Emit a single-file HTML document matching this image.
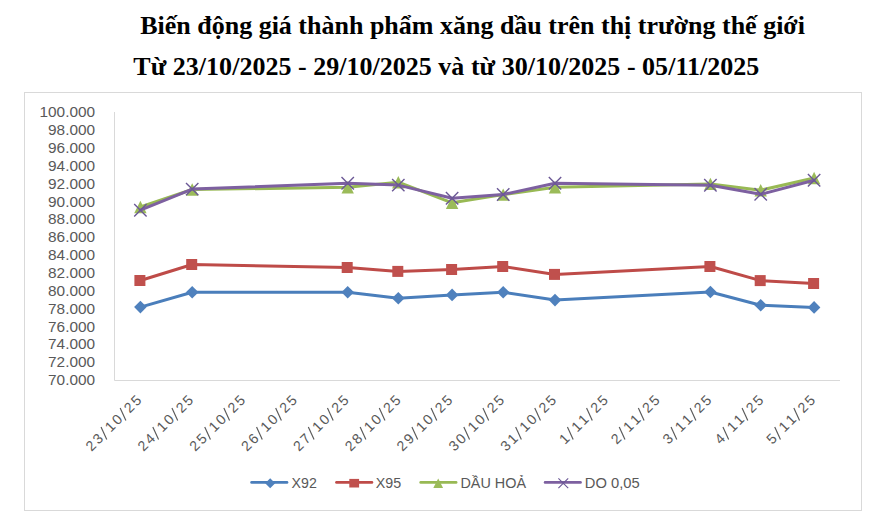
<!DOCTYPE html>
<html><head><meta charset="utf-8"><title>Chart</title>
<style>
html,body{margin:0;padding:0;background:#fff;}
body{width:893px;height:511px;overflow:hidden;}
svg{display:block;}
.t{font-family:"Liberation Serif",serif;font-weight:bold;font-size:26px;fill:#000;}
.a{font-family:"Liberation Sans",sans-serif;font-size:15.4px;fill:#595959;}
.x{font-family:"Liberation Sans",sans-serif;font-size:14.2px;fill:#595959;}
.l{font-family:"Liberation Sans",sans-serif;font-size:15.1px;fill:#595959;}
</style></head><body>
<svg width="893" height="511" viewBox="0 0 893 511">
<rect x="0" y="0" width="893" height="511" fill="#ffffff"/>
<text class="t" x="140.2" y="34.1" textLength="664.8" lengthAdjust="spacing">Biến động giá thành phẩm xăng dầu trên thị trường thế giới</text>
<text class="t" x="133.3" y="75.4" textLength="626" lengthAdjust="spacing">Từ 23/10/2025 - 29/10/2025 và từ 30/10/2025 - 05/11/2025</text>
<rect x="24.5" y="92.5" width="837" height="418" fill="#fff" stroke="#d9d9d9" stroke-width="1"/>
<path d="M114.5,112.0 L114.5,380.5 L840.0,380.5" fill="none" stroke="#d9d9d9" stroke-width="1"/>
<text class="a" x="95.1" y="117.30" text-anchor="end">100.000</text>
<text class="a" x="95.1" y="135.16" text-anchor="end">98.000</text>
<text class="a" x="95.1" y="153.02" text-anchor="end">96.000</text>
<text class="a" x="95.1" y="170.88" text-anchor="end">94.000</text>
<text class="a" x="95.1" y="188.74" text-anchor="end">92.000</text>
<text class="a" x="95.1" y="206.60" text-anchor="end">90.000</text>
<text class="a" x="95.1" y="224.46" text-anchor="end">88.000</text>
<text class="a" x="95.1" y="242.32" text-anchor="end">86.000</text>
<text class="a" x="95.1" y="260.18" text-anchor="end">84.000</text>
<text class="a" x="95.1" y="278.04" text-anchor="end">82.000</text>
<text class="a" x="95.1" y="295.90" text-anchor="end">80.000</text>
<text class="a" x="95.1" y="313.76" text-anchor="end">78.000</text>
<text class="a" x="95.1" y="331.62" text-anchor="end">76.000</text>
<text class="a" x="95.1" y="349.48" text-anchor="end">74.000</text>
<text class="a" x="95.1" y="367.34" text-anchor="end">72.000</text>
<text class="a" x="95.1" y="385.20" text-anchor="end">70.000</text>
<g transform="translate(142.0,401.5) rotate(-45)"><text class="x" x="0.55" y="0" text-anchor="end">5</text><text class="x" x="-9.30" y="0" text-anchor="end">2</text><line x1="-24.79" y1="2.0" x2="-19.99" y2="-10.9" stroke="#595959" stroke-width="1.15"/><text class="x" x="-26.49" y="0" text-anchor="end">0</text><text class="x" x="-36.34" y="0" text-anchor="end">1</text><line x1="-51.83" y1="2.0" x2="-47.03" y2="-10.9" stroke="#595959" stroke-width="1.15"/><text class="x" x="-53.53" y="0" text-anchor="end">3</text><text class="x" x="-63.38" y="0" text-anchor="end">2</text></g>
<g transform="translate(193.8,401.5) rotate(-45)"><text class="x" x="0.55" y="0" text-anchor="end">5</text><text class="x" x="-9.30" y="0" text-anchor="end">2</text><line x1="-24.79" y1="2.0" x2="-19.99" y2="-10.9" stroke="#595959" stroke-width="1.15"/><text class="x" x="-26.49" y="0" text-anchor="end">0</text><text class="x" x="-36.34" y="0" text-anchor="end">1</text><line x1="-51.83" y1="2.0" x2="-47.03" y2="-10.9" stroke="#595959" stroke-width="1.15"/><text class="x" x="-53.53" y="0" text-anchor="end">4</text><text class="x" x="-63.38" y="0" text-anchor="end">2</text></g>
<g transform="translate(245.7,401.5) rotate(-45)"><text class="x" x="0.55" y="0" text-anchor="end">5</text><text class="x" x="-9.30" y="0" text-anchor="end">2</text><line x1="-24.79" y1="2.0" x2="-19.99" y2="-10.9" stroke="#595959" stroke-width="1.15"/><text class="x" x="-26.49" y="0" text-anchor="end">0</text><text class="x" x="-36.34" y="0" text-anchor="end">1</text><line x1="-51.83" y1="2.0" x2="-47.03" y2="-10.9" stroke="#595959" stroke-width="1.15"/><text class="x" x="-53.53" y="0" text-anchor="end">5</text><text class="x" x="-63.38" y="0" text-anchor="end">2</text></g>
<g transform="translate(297.5,401.5) rotate(-45)"><text class="x" x="0.55" y="0" text-anchor="end">5</text><text class="x" x="-9.30" y="0" text-anchor="end">2</text><line x1="-24.79" y1="2.0" x2="-19.99" y2="-10.9" stroke="#595959" stroke-width="1.15"/><text class="x" x="-26.49" y="0" text-anchor="end">0</text><text class="x" x="-36.34" y="0" text-anchor="end">1</text><line x1="-51.83" y1="2.0" x2="-47.03" y2="-10.9" stroke="#595959" stroke-width="1.15"/><text class="x" x="-53.53" y="0" text-anchor="end">6</text><text class="x" x="-63.38" y="0" text-anchor="end">2</text></g>
<g transform="translate(349.3,401.5) rotate(-45)"><text class="x" x="0.55" y="0" text-anchor="end">5</text><text class="x" x="-9.30" y="0" text-anchor="end">2</text><line x1="-24.79" y1="2.0" x2="-19.99" y2="-10.9" stroke="#595959" stroke-width="1.15"/><text class="x" x="-26.49" y="0" text-anchor="end">0</text><text class="x" x="-36.34" y="0" text-anchor="end">1</text><line x1="-51.83" y1="2.0" x2="-47.03" y2="-10.9" stroke="#595959" stroke-width="1.15"/><text class="x" x="-53.53" y="0" text-anchor="end">7</text><text class="x" x="-63.38" y="0" text-anchor="end">2</text></g>
<g transform="translate(401.1,401.5) rotate(-45)"><text class="x" x="0.55" y="0" text-anchor="end">5</text><text class="x" x="-9.30" y="0" text-anchor="end">2</text><line x1="-24.79" y1="2.0" x2="-19.99" y2="-10.9" stroke="#595959" stroke-width="1.15"/><text class="x" x="-26.49" y="0" text-anchor="end">0</text><text class="x" x="-36.34" y="0" text-anchor="end">1</text><line x1="-51.83" y1="2.0" x2="-47.03" y2="-10.9" stroke="#595959" stroke-width="1.15"/><text class="x" x="-53.53" y="0" text-anchor="end">8</text><text class="x" x="-63.38" y="0" text-anchor="end">2</text></g>
<g transform="translate(452.9,401.5) rotate(-45)"><text class="x" x="0.55" y="0" text-anchor="end">5</text><text class="x" x="-9.30" y="0" text-anchor="end">2</text><line x1="-24.79" y1="2.0" x2="-19.99" y2="-10.9" stroke="#595959" stroke-width="1.15"/><text class="x" x="-26.49" y="0" text-anchor="end">0</text><text class="x" x="-36.34" y="0" text-anchor="end">1</text><line x1="-51.83" y1="2.0" x2="-47.03" y2="-10.9" stroke="#595959" stroke-width="1.15"/><text class="x" x="-53.53" y="0" text-anchor="end">9</text><text class="x" x="-63.38" y="0" text-anchor="end">2</text></g>
<g transform="translate(504.8,401.5) rotate(-45)"><text class="x" x="0.55" y="0" text-anchor="end">5</text><text class="x" x="-9.30" y="0" text-anchor="end">2</text><line x1="-24.79" y1="2.0" x2="-19.99" y2="-10.9" stroke="#595959" stroke-width="1.15"/><text class="x" x="-26.49" y="0" text-anchor="end">0</text><text class="x" x="-36.34" y="0" text-anchor="end">1</text><line x1="-51.83" y1="2.0" x2="-47.03" y2="-10.9" stroke="#595959" stroke-width="1.15"/><text class="x" x="-53.53" y="0" text-anchor="end">0</text><text class="x" x="-63.38" y="0" text-anchor="end">3</text></g>
<g transform="translate(556.6,401.5) rotate(-45)"><text class="x" x="0.55" y="0" text-anchor="end">5</text><text class="x" x="-9.30" y="0" text-anchor="end">2</text><line x1="-24.79" y1="2.0" x2="-19.99" y2="-10.9" stroke="#595959" stroke-width="1.15"/><text class="x" x="-26.49" y="0" text-anchor="end">0</text><text class="x" x="-36.34" y="0" text-anchor="end">1</text><line x1="-51.83" y1="2.0" x2="-47.03" y2="-10.9" stroke="#595959" stroke-width="1.15"/><text class="x" x="-53.53" y="0" text-anchor="end">1</text><text class="x" x="-63.38" y="0" text-anchor="end">3</text></g>
<g transform="translate(608.4,401.5) rotate(-45)"><text class="x" x="0.55" y="0" text-anchor="end">5</text><text class="x" x="-9.30" y="0" text-anchor="end">2</text><line x1="-24.79" y1="2.0" x2="-19.99" y2="-10.9" stroke="#595959" stroke-width="1.15"/><text class="x" x="-26.49" y="0" text-anchor="end">1</text><text class="x" x="-36.34" y="0" text-anchor="end">1</text><line x1="-51.83" y1="2.0" x2="-47.03" y2="-10.9" stroke="#595959" stroke-width="1.15"/><text class="x" x="-53.53" y="0" text-anchor="end">1</text></g>
<g transform="translate(660.2,401.5) rotate(-45)"><text class="x" x="0.55" y="0" text-anchor="end">5</text><text class="x" x="-9.30" y="0" text-anchor="end">2</text><line x1="-24.79" y1="2.0" x2="-19.99" y2="-10.9" stroke="#595959" stroke-width="1.15"/><text class="x" x="-26.49" y="0" text-anchor="end">1</text><text class="x" x="-36.34" y="0" text-anchor="end">1</text><line x1="-51.83" y1="2.0" x2="-47.03" y2="-10.9" stroke="#595959" stroke-width="1.15"/><text class="x" x="-53.53" y="0" text-anchor="end">2</text></g>
<g transform="translate(712.0,401.5) rotate(-45)"><text class="x" x="0.55" y="0" text-anchor="end">5</text><text class="x" x="-9.30" y="0" text-anchor="end">2</text><line x1="-24.79" y1="2.0" x2="-19.99" y2="-10.9" stroke="#595959" stroke-width="1.15"/><text class="x" x="-26.49" y="0" text-anchor="end">1</text><text class="x" x="-36.34" y="0" text-anchor="end">1</text><line x1="-51.83" y1="2.0" x2="-47.03" y2="-10.9" stroke="#595959" stroke-width="1.15"/><text class="x" x="-53.53" y="0" text-anchor="end">3</text></g>
<g transform="translate(763.9,401.5) rotate(-45)"><text class="x" x="0.55" y="0" text-anchor="end">5</text><text class="x" x="-9.30" y="0" text-anchor="end">2</text><line x1="-24.79" y1="2.0" x2="-19.99" y2="-10.9" stroke="#595959" stroke-width="1.15"/><text class="x" x="-26.49" y="0" text-anchor="end">1</text><text class="x" x="-36.34" y="0" text-anchor="end">1</text><line x1="-51.83" y1="2.0" x2="-47.03" y2="-10.9" stroke="#595959" stroke-width="1.15"/><text class="x" x="-53.53" y="0" text-anchor="end">4</text></g>
<g transform="translate(815.7,401.5) rotate(-45)"><text class="x" x="0.55" y="0" text-anchor="end">5</text><text class="x" x="-9.30" y="0" text-anchor="end">2</text><line x1="-24.79" y1="2.0" x2="-19.99" y2="-10.9" stroke="#595959" stroke-width="1.15"/><text class="x" x="-26.49" y="0" text-anchor="end">1</text><text class="x" x="-36.34" y="0" text-anchor="end">1</text><line x1="-51.83" y1="2.0" x2="-47.03" y2="-10.9" stroke="#595959" stroke-width="1.15"/><text class="x" x="-53.53" y="0" text-anchor="end">5</text></g>
<polyline points="140.4,307.1 192.2,292.3 347.7,292.3 398.3,298.2 452.1,294.9 503.2,292.2 555.0,300.1 710.4,292.0 760.7,305.2 814.1,307.4" fill="none" stroke="#4a7ebb" stroke-width="3" stroke-linejoin="round" stroke-linecap="round"/>
<path d="M140.4,300.8 L146.7,307.1 L140.4,313.4 L134.1,307.1Z" fill="#4f81bd"/>
<path d="M192.2,286.0 L198.5,292.3 L192.2,298.6 L185.9,292.3Z" fill="#4f81bd"/>
<path d="M347.7,286.0 L354.0,292.3 L347.7,298.6 L341.4,292.3Z" fill="#4f81bd"/>
<path d="M398.3,291.9 L404.6,298.2 L398.3,304.5 L392.0,298.2Z" fill="#4f81bd"/>
<path d="M452.1,288.6 L458.4,294.9 L452.1,301.2 L445.8,294.9Z" fill="#4f81bd"/>
<path d="M503.2,285.9 L509.5,292.2 L503.2,298.5 L496.9,292.2Z" fill="#4f81bd"/>
<path d="M555.0,293.8 L561.3,300.1 L555.0,306.4 L548.7,300.1Z" fill="#4f81bd"/>
<path d="M710.4,285.7 L716.7,292.0 L710.4,298.3 L704.1,292.0Z" fill="#4f81bd"/>
<path d="M760.7,298.9 L767.0,305.2 L760.7,311.5 L754.4,305.2Z" fill="#4f81bd"/>
<path d="M814.1,301.1 L820.4,307.4 L814.1,313.7 L807.8,307.4Z" fill="#4f81bd"/>
<polyline points="140.4,280.5 192.2,264.5 347.7,267.5 398.3,271.4 452.1,269.5 503.2,266.5 555.0,274.4 710.4,266.5 760.7,280.6 814.1,283.5" fill="none" stroke="#be4b48" stroke-width="3" stroke-linejoin="round" stroke-linecap="round"/>
<rect x="134.4" y="275.0" width="11.0" height="11.0" fill="#c0504d"/>
<rect x="186.2" y="259.0" width="11.0" height="11.0" fill="#c0504d"/>
<rect x="341.7" y="262.0" width="11.0" height="11.0" fill="#c0504d"/>
<rect x="392.3" y="265.9" width="11.0" height="11.0" fill="#c0504d"/>
<rect x="446.1" y="264.0" width="11.0" height="11.0" fill="#c0504d"/>
<rect x="497.2" y="261.0" width="11.0" height="11.0" fill="#c0504d"/>
<rect x="549.0" y="268.9" width="11.0" height="11.0" fill="#c0504d"/>
<rect x="704.4" y="261.0" width="11.0" height="11.0" fill="#c0504d"/>
<rect x="754.7" y="275.1" width="11.0" height="11.0" fill="#c0504d"/>
<rect x="808.1" y="278.0" width="11.0" height="11.0" fill="#c0504d"/>
<polyline points="140.4,207.0 192.2,189.5 347.7,187.3 398.3,182.2 452.1,202.8 503.2,194.6 555.0,187.2 710.4,183.9 760.7,190.2 814.1,178.0" fill="none" stroke="#98b954" stroke-width="3" stroke-linejoin="round" stroke-linecap="round"/>
<path d="M140.4,200.8 L146.6,213.2 L134.2,213.2Z" fill="#9bbb59"/>
<path d="M192.2,183.3 L198.4,195.7 L186.0,195.7Z" fill="#9bbb59"/>
<path d="M347.7,181.1 L353.9,193.5 L341.5,193.5Z" fill="#9bbb59"/>
<path d="M398.3,176.0 L404.5,188.4 L392.1,188.4Z" fill="#9bbb59"/>
<path d="M452.1,196.6 L458.3,209.0 L445.9,209.0Z" fill="#9bbb59"/>
<path d="M503.2,188.4 L509.4,200.8 L497.0,200.8Z" fill="#9bbb59"/>
<path d="M555.0,181.0 L561.2,193.4 L548.8,193.4Z" fill="#9bbb59"/>
<path d="M710.4,177.7 L716.6,190.1 L704.2,190.1Z" fill="#9bbb59"/>
<path d="M760.7,184.0 L766.9,196.4 L754.5,196.4Z" fill="#9bbb59"/>
<path d="M814.1,171.8 L820.3,184.2 L807.9,184.2Z" fill="#9bbb59"/>
<polyline points="140.4,210.2 192.2,189.1 347.7,183.2 398.3,185.1 452.1,198.3 503.2,194.5 555.0,183.3 710.4,185.3 760.7,194.3 814.1,180.2" fill="none" stroke="#7d60a0" stroke-width="3" stroke-linejoin="round" stroke-linecap="round"/>
<path d="M134.2,204.0 L146.6,216.4 M134.2,216.4 L146.6,204.0" stroke="#6b5896" stroke-width="1.4" fill="none"/>
<path d="M186.0,182.9 L198.4,195.3 M186.0,195.3 L198.4,182.9" stroke="#6b5896" stroke-width="1.4" fill="none"/>
<path d="M341.5,177.0 L353.9,189.4 M341.5,189.4 L353.9,177.0" stroke="#6b5896" stroke-width="1.4" fill="none"/>
<path d="M392.1,178.9 L404.5,191.3 M392.1,191.3 L404.5,178.9" stroke="#6b5896" stroke-width="1.4" fill="none"/>
<path d="M445.9,192.1 L458.3,204.5 M445.9,204.5 L458.3,192.1" stroke="#6b5896" stroke-width="1.4" fill="none"/>
<path d="M497.0,188.3 L509.4,200.7 M497.0,200.7 L509.4,188.3" stroke="#6b5896" stroke-width="1.4" fill="none"/>
<path d="M548.8,177.1 L561.2,189.5 M548.8,189.5 L561.2,177.1" stroke="#6b5896" stroke-width="1.4" fill="none"/>
<path d="M704.2,179.1 L716.6,191.5 M704.2,191.5 L716.6,179.1" stroke="#6b5896" stroke-width="1.4" fill="none"/>
<path d="M754.5,188.1 L766.9,200.5 M754.5,200.5 L766.9,188.1" stroke="#6b5896" stroke-width="1.4" fill="none"/>
<path d="M807.9,174.0 L820.3,186.4 M807.9,186.4 L820.3,174.0" stroke="#6b5896" stroke-width="1.4" fill="none"/>
<line x1="251.60000000000002" y1="482.4" x2="287.0" y2="482.4" stroke="#4a7ebb" stroke-width="2.7" stroke-linecap="round"/>
<path d="M270.2,478.2 L275.2,483.2 L270.2,488.2 L265.2,483.2Z" fill="#4f81bd"/>
<text class="l" x="291.6" y="487.6" textLength="25.2" lengthAdjust="spacingAndGlyphs">X92</text>
<line x1="336.5" y1="482.4" x2="371.9" y2="482.4" stroke="#be4b48" stroke-width="2.7" stroke-linecap="round"/>
<rect x="349.3" y="478.9" width="9.8" height="8.6" fill="#c0504d"/>
<text class="l" x="375.8" y="487.6" textLength="25.4" lengthAdjust="spacingAndGlyphs">X95</text>
<line x1="420.7" y1="482.4" x2="456.09999999999997" y2="482.4" stroke="#98b954" stroke-width="2.7" stroke-linecap="round"/>
<path d="M438.2,478.4 L443.1,487.9 L433.3,487.9Z" fill="#9bbb59"/>
<text class="l" x="460.4" y="487.6" textLength="65.6" lengthAdjust="spacingAndGlyphs">DẦU HOẢ</text>
<line x1="545.0999999999999" y1="482.4" x2="580.5" y2="482.4" stroke="#7d60a0" stroke-width="2.7" stroke-linecap="round"/>
<path d="M558.4,478.3 L568.2,488.1 M558.4,488.1 L568.2,478.3" stroke="#6b5896" stroke-width="1.1" fill="none"/>
<text class="l" x="584.8" y="487.6" textLength="54.8" lengthAdjust="spacingAndGlyphs">DO 0,05</text>
</svg></body></html>
